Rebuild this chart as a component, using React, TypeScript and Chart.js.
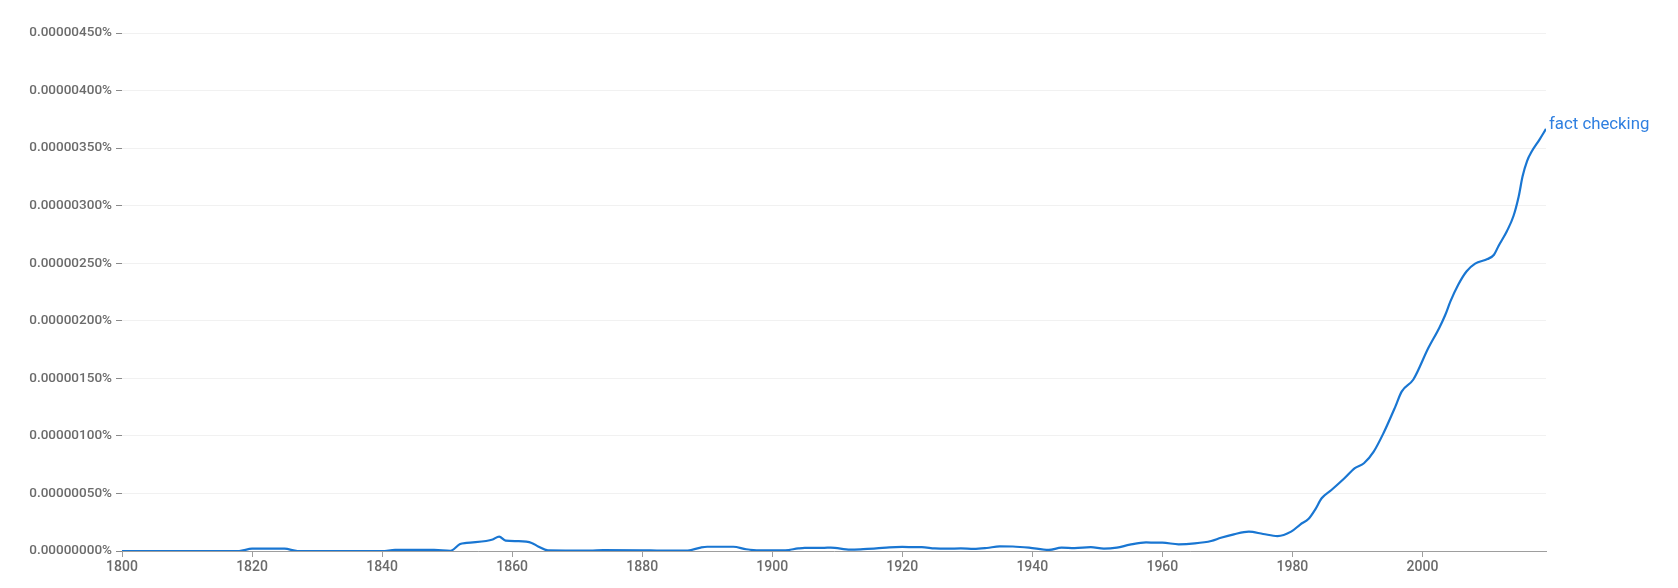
import React, { useEffect, useRef } from "react";
import { Chart, registerables } from "chart.js";

Chart.register(...registerables);

// Years (x) and values (in units of 1e-6 %)
const years: number[] = [
  1800, 1818, 1820, 1825, 1827, 1840, 1842, 1848, 1850.5, 1852, 1853, 1856, 1857, 1858, 1859, 1861, 1863, 1864,
  1865.5, 1872, 1874, 1880, 1883, 1887, 1889, 1890, 1894, 1896, 1898, 1902, 1904, 1905, 1908, 1909, 1912, 1914,
  1916, 1918, 1920, 1922, 1923, 1925, 1927, 1929, 1931, 1933, 1935, 1937, 1939.5, 1942.5, 1944.5, 1946.5, 1949,
  1951, 1953, 1955, 1957.5, 1959, 1960, 1962.5, 1965, 1967.5, 1969, 1971, 1973.3, 1975.5, 1977.7, 1979.8, 1981.2,
  1982.5, 1983.5, 1984.5, 1986, 1988, 1989.6, 1991, 1992.5, 1994, 1995.8, 1996.8, 1998.6, 2000.9, 2002.6, 2003.5,
  2004.3, 2005.5, 2006.8, 2008.1, 2010, 2011, 2011.7, 2013, 2014, 2014.8, 2015.4, 2016.1, 2016.8, 2018, 2019,
];
const factChecking: number[] = [
  0, 0, 0.02, 0.02, 0, 0, 0.009, 0.009, 0.002, 0.06, 0.07, 0.087, 0.1, 0.125, 0.09, 0.085, 0.07, 0.04,
  0.005, 0.003, 0.008, 0.006, 0.003, 0.004, 0.03, 0.037, 0.037, 0.015, 0.005, 0.006, 0.022, 0.027, 0.028, 0.03, 0.012, 0.016,
  0.022, 0.032, 0.036, 0.033, 0.033, 0.022, 0.02, 0.022, 0.018, 0.026, 0.04, 0.039, 0.029, 0.009, 0.029, 0.025, 0.033,
  0.02, 0.029, 0.055, 0.075, 0.072, 0.072, 0.058, 0.066, 0.087, 0.115, 0.145, 0.168, 0.148, 0.13, 0.168, 0.23,
  0.28, 0.36, 0.458, 0.53, 0.632, 0.72, 0.762, 0.863, 1.023, 1.25, 1.385, 1.49, 1.763, 1.94, 2.05,
  2.168, 2.313, 2.43, 2.496, 2.536, 2.574, 2.65, 2.78, 2.91, 3.08, 3.255, 3.39, 3.47, 3.574, 3.667,
];
const seriesLabel = "fact checking";
const xTickYears: number[] = [1800, 1820, 1840, 1860, 1880, 1900, 1920, 1940, 1960, 1980, 2000];
const yTickValues: number[] = [0, 0.5, 1, 1.5, 2, 2.5, 3, 3.5, 4, 4.5];

const LINE_COLOR = "#1976d2";
const FONT = "Roboto";

const endLabelPlugin = {
  id: "endLabel",
  afterDatasetsDraw(chart: any) {
    const meta = chart.getDatasetMeta(0);
    const pts = meta.data;
    if (!pts || !pts.length) return;
    const p = pts[pts.length - 1];
    const ctx = chart.ctx;
    ctx.save();
    ctx.font = `16.8px ${FONT}`;
    ctx.fillStyle = "#2f7fe0";
    ctx.textAlign = "left";
    ctx.textBaseline = "middle";
    ctx.fillText(chart.data.datasets[0].label, p.x + 3, p.y - 4);
    ctx.restore();
  },
};

export default function App() {
  const ref = useRef<HTMLCanvasElement>(null);
  useEffect(() => {
    document.body.style.margin = "0";
    const data = years.map((y, i) => ({ x: y, y: factChecking[i] }));
    const chart = new Chart(ref.current!, {
      type: "line",
      data: {
        datasets: [
          {
            label: seriesLabel,
            data,
            borderColor: LINE_COLOR,
            borderWidth: 2.2,
            pointRadius: 0,
            fill: false,
            cubicInterpolationMode: "monotone",
          },
        ],
      },
      plugins: [endLabelPlugin],
      options: {
        animation: false,
        responsive: false,
        maintainAspectRatio: false,
        layout: { padding: { top: 33, right: 132, left: 0, bottom: 0 } },
        plugins: { legend: { display: false }, tooltip: { enabled: false } },
        scales: {
          x: {
            type: "linear",
            min: 1800,
            max: 2019,
            afterFit: (s: any) => {
              s.height = 37;
            },
            afterBuildTicks: (s: any) => {
              s.ticks = xTickYears.map((v) => ({ value: v }));
            },
            grid: {
              drawOnChartArea: false,
              drawTicks: true,
              tickLength: 6,
              tickColor: "#9e9e9e",
            },
            border: { display: true, color: "#9e9e9e", width: 1 },
            ticks: {
              padding: 2,
              color: "#6b6b6b",
              font: { family: FONT, size: 14, weight: "500" },
              maxRotation: 0,
              callback: (v: any) => String(v),
            },
          },
          y: {
            min: 0,
            max: 4.5,
            afterFit: (s: any) => {
              s.width = 122;
            },
            afterBuildTicks: (s: any) => {
              s.ticks = yTickValues.map((v) => ({ value: v }));
            },
            grid: {
              color: "#f1f1f1",
              lineWidth: 1,
              tickLength: 6,
              tickColor: "#8a8a8a",
            },
            border: { display: false },
            ticks: {
              padding: 4,
              color: "#6b6b6b",
              font: { family: FONT, size: 13.5, weight: "500" },
              callback: (v: any) => (Number(v) / 1e6).toFixed(8) + "%",
            },
          },
        },
      },
    });
    return () => chart.destroy();
  }, []);
  return (
    <div style={{ position: "absolute", left: 0, top: 0, width: 1678, height: 588, background: "#fff" }}>
      <canvas ref={ref} width={1678} height={588} style={{ width: 1678, height: 588 }} />
    </div>
  );
}
